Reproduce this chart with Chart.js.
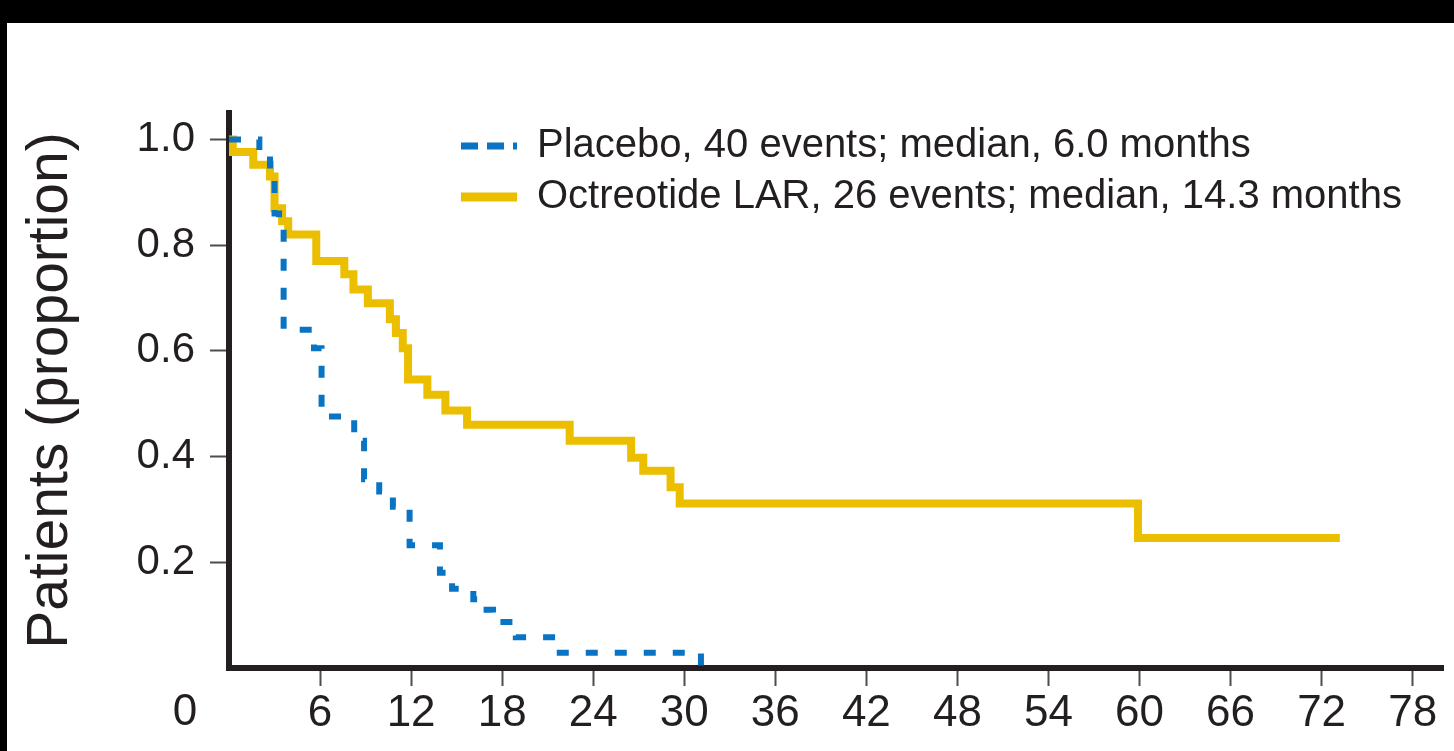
<!DOCTYPE html>
<html>
<head>
<meta charset="utf-8">
<title>Kaplan-Meier: Placebo vs Octreotide LAR</title>
<script src="https://cdn.jsdelivr.net/npm/chart.js@4"></script>
<style>
  html, body { margin: 0; padding: 0; background: #000; overflow: hidden; }
  #wrap { position: absolute; left: 7px; top: 23px; width: 1447px; height: 728px; background: #fff; }
</style>
</head>
<body>
<div id="wrap"><canvas id="kmChart"></canvas></div>
<script>
// step points: month of the drop and proportion after it
const placeboMonths = [0, 2.0, 2.7, 3.0, 3.3, 3.6, 5.6, 6.1, 8.25, 8.9, 9.9, 10.8, 11.9, 13.9, 14.7, 16.1, 16.6, 17.4, 18.9, 21.5, 31.1, 31.3];
const placeboProp = [1.0, 0.977, 0.93, 0.86, 0.83, 0.64, 0.605, 0.476, 0.43, 0.357, 0.334, 0.305, 0.232, 0.18, 0.15, 0.13, 0.11, 0.087, 0.058, 0.029, 0.0, 0.0];

const octreotideMonths = [0, 0.25, 1.6, 2.7, 3.0, 3.5, 3.9, 5.75, 7.6, 8.2, 9.15, 10.6, 11.0, 11.45, 11.8, 13.07, 14.26, 15.69, 22.45, 26.5, 27.3, 29.1, 29.7, 59.9, 73.2];
const octreotideProp = [1.0, 0.976, 0.952, 0.93, 0.87, 0.845, 0.82, 0.77, 0.745, 0.716, 0.69, 0.66, 0.634, 0.605, 0.546, 0.517, 0.487, 0.46, 0.43, 0.398, 0.373, 0.342, 0.311, 0.246, 0.246];

const seriesLabels = ['Placebo, 40 events; median, 6.0 months', 'Octreotide LAR, 26 events; median, 14.3 months'];
const xTickValues = [6, 12, 18, 24, 30, 36, 42, 48, 54, 60, 66, 72, 78];
const yTickValues = [0.2, 0.4, 0.6, 0.8, 1.0];
const yTitle = 'Patients (proportion)';

const textColor = '#231f20';
const fontFamily = "'Liberation Sans', Arial, Helvetica, sans-serif";
// the legend sample uses longer dashes than the curve itself
const legendDash = [[17, 9], []];

function toPoints(xs, ys) {
  return xs.map((x, i) => ({ x: x, y: ys[i] }));
}

// puts the legend inside the plot and writes the shared "0" at the corner
const cornerPlugin = {
  id: 'corner',
  afterLayout(chart) {
    const lg = chart.legend;
    lg.left = 443;
    lg.top = 92;
  },
  afterDraw(chart) {
    const xs = chart.scales.x;
    const ctx = chart.ctx;
    ctx.save();
    ctx.font = '44px ' + fontFamily;
    ctx.fillStyle = textColor;
    ctx.textAlign = 'center';
    ctx.textBaseline = 'middle';
    ctx.fillText('0', xs.getPixelForValue(0) - 44, xs.top + 45);
    ctx.restore();
  }
};

new Chart(document.getElementById('kmChart'), {
  type: 'line',
  data: {
    datasets: [{
      label: seriesLabels[0],
      data: toPoints(placeboMonths, placeboProp),
      borderColor: '#0a74c4',
      borderWidth: 6,
      borderDash: [12, 17],
      borderJoinStyle: 'miter',
      stepped: 'before',
      pointRadius: 0,
      fill: false
    }, {
      label: seriesLabels[1],
      data: toPoints(octreotideMonths, octreotideProp),
      borderColor: '#ecbe00',
      borderWidth: 8,
      borderJoinStyle: 'miter',
      stepped: 'before',
      pointRadius: 0,
      fill: false
    }]
  },
  options: {
    responsive: true,
    maintainAspectRatio: false,
    animation: false,
    layout: { padding: { left: 0, top: 90, right: 11, bottom: 0 } },
    plugins: {
      tooltip: { enabled: false },
      legend: {
        position: 'chartArea',
        align: 'start',
        labels: {
          usePointStyle: true,
          pointStyle: 'line',
          pointStyleWidth: 56,
          padding: 11,
          color: textColor,
          font: { family: fontFamily, size: 40 },
          generateLabels: (chart) => {
            const items = Chart.defaults.plugins.legend.labels.generateLabels(chart);
            items.forEach((item, i) => {
              const ds = chart.data.datasets[item.datasetIndex];
              item.strokeStyle = ds.borderColor;
              item.lineWidth = ds.borderWidth + 1;
              item.lineDash = legendDash[i];
            });
            return items;
          }
        }
      }
    },
    scales: {
      x: {
        type: 'linear',
        min: 0,
        max: 80,
        afterBuildTicks: (s) => { s.ticks = xTickValues.map(v => ({ value: v })); },
        afterFit: (s) => { s.height = 83; },
        border: { display: true, width: 6, color: textColor },
        grid: { drawOnChartArea: false, drawTicks: true, tickLength: 18, tickWidth: 2, tickColor: '#4d4d4f' },
        ticks: { color: textColor, padding: 1, maxRotation: 0, autoSkip: false, font: { family: fontFamily, size: 44 } }
      },
      y: {
        min: 0,
        max: 1.05,
        afterBuildTicks: (s) => { s.ticks = yTickValues.map(v => ({ value: v })); },
        afterFit: (s) => { s.width = 222; },
        border: { display: true, width: 6, color: textColor },
        grid: { drawOnChartArea: false, drawTicks: true, tickLength: 19, tickWidth: 2, tickColor: '#4d4d4f' },
        ticks: {
          color: textColor,
          padding: 15,
          font: { family: fontFamily, size: 42 },
          callback: (v) => v.toFixed(1)
        },
        title: {
          display: true,
          text: yTitle,
          color: textColor,
          padding: { top: 10, bottom: 0 },
          font: { family: fontFamily, size: 57 }
        }
      }
    }
  },
  plugins: [cornerPlugin]
});
</script>
</body>
</html>
